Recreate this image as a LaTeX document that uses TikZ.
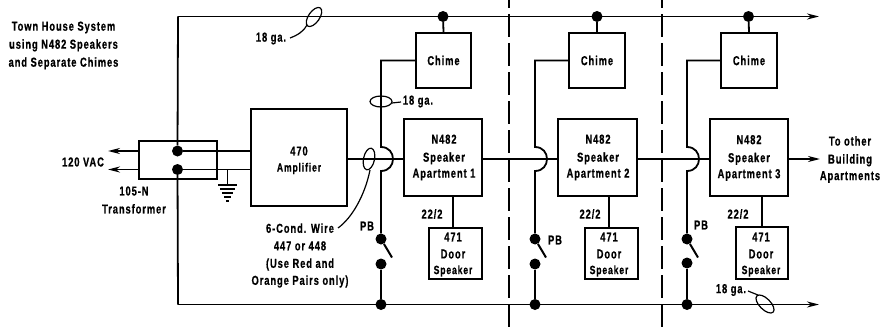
\documentclass[tikz,border=0pt]{standalone}
\usepackage{fontspec}
\setmainfont{Liberation Sans}[FakeStretch=0.72,LetterSpace=7,BoldFont={* Bold},BoldFeatures={FakeBold=0.6}]
\usetikzlibrary{arrows.meta,calc}
\tikzset{
  wire/.style={line width=1.8pt,line join=miter},
  boxn/.style={draw,line width=1.8pt,inner sep=0pt,align=center},
  lab/.style={font=\bfseries\fontsize{13}{13}\selectfont,inner sep=0pt,align=center},
  small/.style={font=\bfseries\fontsize{12}{12}\selectfont,inner sep=0pt},
  jdot/.style={circle,fill=black,inner sep=0pt,minimum size=11pt},
  tip/.style={-{Stealth[length=12pt,width=6pt]}},
  thin wire/.style={line width=1.2pt},
  divider/.style={line width=1.5pt,dash pattern=on 23pt off 6pt,dash phase=15pt},
}
\begin{document}
\begin{tikzpicture}[x=1pt,y=-1pt]
\useasboundingbox (0,0) rectangle (882,329);
% boxes
\node[boxn,minimum width=78pt,minimum height=38pt] (xf) at (178,160) {};
\node[boxn,minimum width=96pt,minimum height=97pt] (amp) at (299,157.5) {};
\node[boxn,minimum width=55pt,minimum height=55pt] (ch1) at (443.5,60.5) {};
\node[boxn,minimum width=56pt,minimum height=55pt] (ch2) at (597,60.5) {};
\node[boxn,minimum width=56pt,minimum height=55pt] (ch3) at (749,60.5) {};
\node[boxn,minimum width=78pt,minimum height=77pt] (sp1) at (443,157.5) {};
\node[boxn,minimum width=79pt,minimum height=77pt] (sp2) at (597.5,157.5) {};
\node[boxn,minimum width=78pt,minimum height=77pt] (sp3) at (749,157.5) {};
\node[boxn,minimum width=53pt,minimum height=51pt] (dr1) at (455.5,253.5) {};
\node[boxn,minimum width=53pt,minimum height=51pt] (dr2) at (611.5,253.5) {};
\node[boxn,minimum width=52pt,minimum height=52pt] (dr3) at (762,253) {};
% junction dots
\node[jdot] (tt) at (177.5,151) {};
\node[jdot] (tb) at (177.5,169.5) {};
\node[jdot] (top1) at (443,16.5) {};
\node[jdot] (top2) at (597,16.5) {};
\node[jdot] (top3) at (748.5,16.5) {};
\node[jdot] (bot1) at (381,304.5) {};
\node[jdot] (bot2) at (535,304.5) {};
\node[jdot] (bot3) at (687,304.5) {};
\node[jdot] (pa1) at (381,239) {};
\node[jdot] (pb1) at (381,264) {};
\node[jdot] (pa2) at (535,239) {};
\node[jdot] (pb2) at (535,264) {};
\node[jdot] (pa3) at (687,239) {};
\node[jdot] (pb3) at (687,263) {};
% free ends
\coordinate (tl) at (178,16.5);
\coordinate (bl) at (178,304.5);
\coordinate (tr) at (819,16.5);
\coordinate (br) at (819,304.5);
\coordinate (inA) at (108,151);
\coordinate (inB) at (108,169.5);
\coordinate (outE) at (820,159);
\coordinate (gnd) at (227.5,169.5);
\coordinate (gndb) at (227.5,185);
% bus
\draw[wire] (tt) -- (tl);
\draw[wire,tip] (tl) -- (tr);
\draw[wire] (tb) -- (bl);
\draw[wire,tip] (bl) -- (br);
% mains
\draw[wire,tip] (xf.west |- tt) -- (inA);
\draw[wire,tip] (xf.west |- tb) -- (inB);
\draw[wire] (tt) -- (amp.west |- tt);
\draw[wire] (tb) -- (amp.west |- tb);
\draw[wire] (gnd) -- (gndb);
\foreach \yy/\hw in {185/9.5,189/7.5,193/5.5,197/3.5,201/1.5}
  \draw[line width=1.2pt] (227.5-\hw,\yy) -- (227.5+\hw,\yy);
% signal line
\draw[wire] (amp.east |- 0,159) -- (sp1.west |- 0,159);
\draw[wire] (sp1.east |- 0,159) -- (sp2.west |- 0,159);
\draw[wire] (sp2.east |- 0,159) -- (sp3.west |- 0,159);
\draw[wire,tip] (sp3.east |- 0,159) -- (outE);
% chimes to bus
\draw[wire] (top1) -- (ch1.north);
\draw[wire] (top2) -- (ch2.north);
\draw[wire] (top3) -- (ch3.north);
% chime / PB risers with hop
\foreach \c/\a/\b/\e/\xx in {ch1/pa1/pb1/bot1/381,ch2/pa2/pb2/bot2/535,ch3/pa3/pb3/bot3/687}{
  \draw[wire] (\c.west) -- (\xx,60.5) -- (\xx,147) .. controls (\xx+16,147) and (\xx+16,171) .. (\xx,171) -- (\a);
  \draw[wire] (\b) -- (\e);
  \draw[line width=2pt] (\a) -- ++(11,18.5);
}
% speaker to door
\draw[wire] (sp1.south -| dr1.north) ++(-2.5,0) -- ++(0,32);
\draw[wire] (sp2.south -| dr2.north) ++(-2.5,0) -- ++(0,32);
\draw[wire] (sp3.south -| dr3.north) -- (dr3.north);
% dividers
\coordinate (d1t) at (509,0); \coordinate (d1b) at (509,329);
\coordinate (d2t) at (662,0); \coordinate (d2b) at (662,329);
\draw[divider] (d1t) -- (d1b);
\draw[divider] (d2t) -- (d2b);
% cable ovals and leaders
\draw[thin wire] (314,17) ellipse[x radius=11,y radius=5.5,rotate=55];
\draw[thin wire] (290,38) .. controls (298,35) and (304,31) .. (307,25);
\draw[thin wire] (381,101.5) ellipse[x radius=11,y radius=5.5];
\draw[thin wire] (392,103) -- (401,102);
\draw[thin wire] (369,159) ellipse[x radius=5.5,y radius=11,rotate=-12];
\draw[thin wire] (370,170) .. controls (365,195) and (352,218) .. (338,228);
\draw[thin wire] (765,304) ellipse[x radius=11.5,y radius=5.5,rotate=-45];
\draw[thin wire] (748,291) -- (758,295);
% labels
\node[lab] (title) at (63.5,45.5) {Town House System\\[5pt]using N482 Speakers\\[5pt]and Separate Chimes};
\node[lab] (vac) at (83,162) {120 VAC};
\node[lab] (tf) at (134,200) {105-N\\[5pt]Transformer};
\node[lab] (a470) at (299,151) {470};
\node[small] (aamp) at (299,168.5) {Amplifier};
\node[lab] (cond) at (300,255.5) {6-Cond. Wire\\[4.5pt]447 or 448\\[4.5pt](Use Red and\\[4pt]Orange Pairs only)};
\node[lab] (ga1) at (271,38.5) {18 ga.};
\node[lab] (ga2) at (418,101.5) {18 ga.};
\node[lab] (ga3) at (731,290) {18 ga.};
\node[lab] at (ch1) {Chime};
\node[lab] at (ch2) {Chime};
\node[lab] at (ch3) {Chime};
\node[lab] at (444,157.5) {N482\\[5pt]Speaker\\[3pt]Apartment 1};
\node[lab] at (598,157.5) {N482\\[5pt]Speaker\\[3pt]Apartment 2};
\node[lab] at (749,158) {N482\\[5pt]Speaker\\[3pt]Apartment 3};
\node[lab] at (432,214) {22/2};
\node[lab] at (590,214) {22/2};
\node[lab] at (738,214) {22/2};
\foreach \xx in {453,609,761}{
  \node[lab] at (\xx,237) {471};
  \node[lab] at (\xx,254) {Door};
  \node[small] at (\xx,271) {Speaker};
}
\node[lab] at (367,226) {PB};
\node[lab] at (555,240) {PB};
\node[lab] at (701,225) {PB};
\node[lab] at (850,159.5) {To other\\[5pt]Building\\[3.5pt]Apartments};
\end{tikzpicture}
\end{document}
